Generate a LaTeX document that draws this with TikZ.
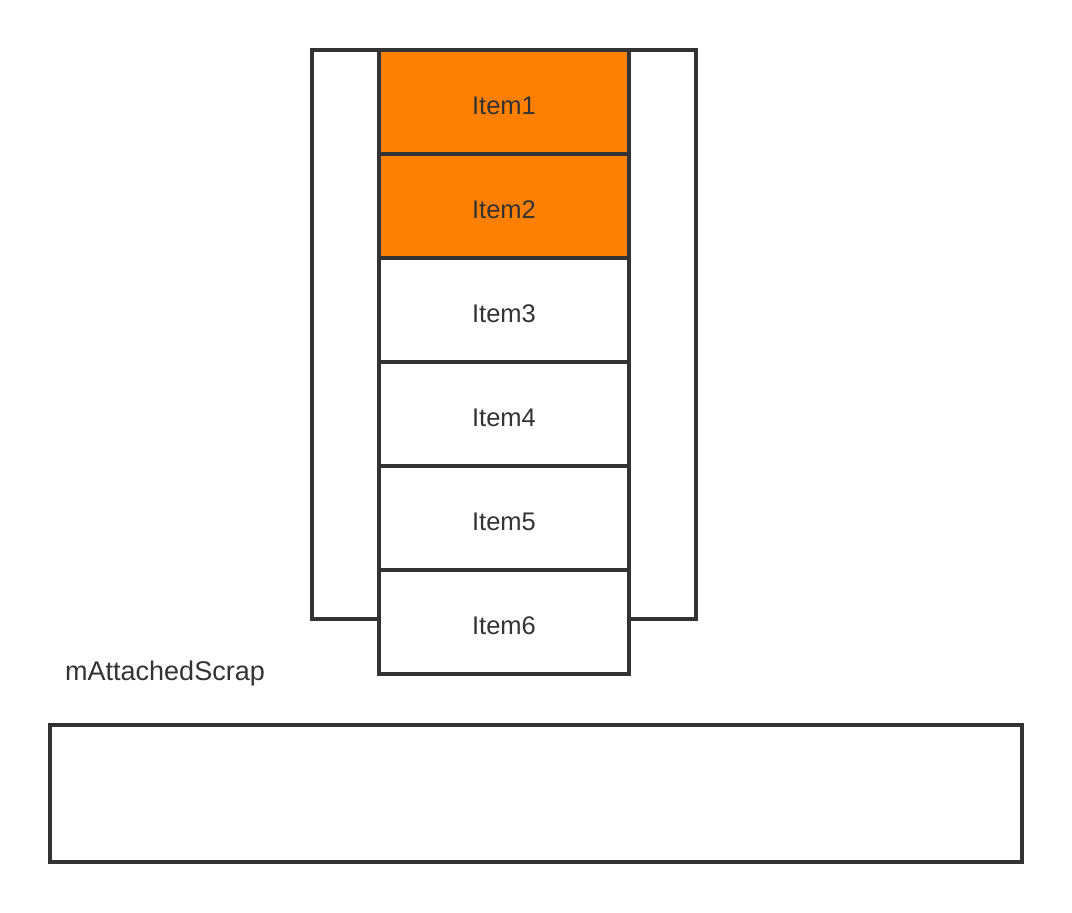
\documentclass[tikz,border=0pt]{standalone}
\usepackage{fontspec}
\setmainfont{Liberation Sans}
\definecolor{linec}{HTML}{333333}
\definecolor{textc}{HTML}{333333}
\definecolor{orangec}{HTML}{FF8000}
\begin{document}
\begin{tikzpicture}[x=1pt,y=-1pt,
  box/.style={draw=linec,line width=3.5pt,inner sep=0pt},
  item/.style={box,minimum width=250pt,minimum height=104pt,fill=white,
    font=\fontsize{25.5}{30}\selectfont,text=textc,text height=25.6pt,text depth=0pt},
  hot/.style={item,fill=orangec},
  lbl/.style={font=\fontsize{27}{31}\selectfont,text=textc,inner sep=0pt}]
\useasboundingbox (0,0) rectangle (1072,913);
\fill[white] (0,0) rectangle (1072,913);
\node[box,minimum width=384pt,minimum height=569pt] (frame) at (504,334.5) {};
\node[hot]  (i1) at (504,102) {Item1};
\node[hot]  (i2) at (504,206) {Item2};
\node[item] (i3) at (504,310) {Item3};
\node[item] (i4) at (504,414) {Item4};
\node[item] (i5) at (504,518) {Item5};
\node[item] (i6) at (504,622) {Item6};
\node[lbl,anchor=base west] (label) at (65,680) {mAttachedScrap};
\node[box,minimum width=972pt,minimum height=137pt] (scrap) at (536,793.5) {};
\end{tikzpicture}
\end{document}
